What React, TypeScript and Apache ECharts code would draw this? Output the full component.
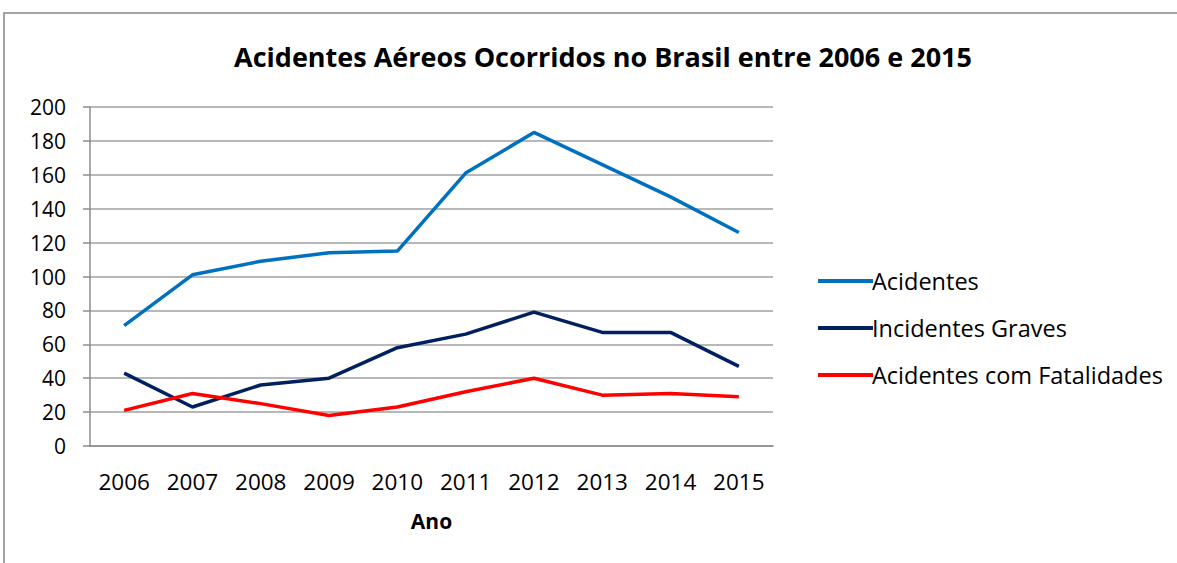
import React, { useEffect, useRef } from "react";
import * as echarts from "echarts";

const years = ["2006", "2007", "2008", "2009", "2010", "2011", "2012", "2013", "2014", "2015"];
const acidentes = [71, 101, 109, 114, 115, 161, 185, 166, 147, 126];
const incidentesGraves = [43, 23, 36, 40, 58, 66, 79, 67, 67, 47];
const fatalidades = [21, 31, 25, 18, 23, 32, 40, 30, 31, 29];

const FONT = "'Open Sans', 'Noto Sans', sans-serif";

export default function App() {
  const ref = useRef<HTMLDivElement>(null);
  useEffect(() => {
    if (!ref.current) return;
    const chart = echarts.init(ref.current, null, { renderer: "svg" });
    const mk = (name: string, data: number[], color: string) => ({
      name,
      type: "line",
      data,
      symbol: "none",
      showSymbol: false,
      lineStyle: { color, width: 3.5 },
      itemStyle: { color },
    });
    chart.setOption({
      animation: false,
      backgroundColor: "#ffffff",
      title: {
        text: "Acidentes Aéreos Ocorridos no Brasil entre 2006 e 2015",
        left: 598,
        textAlign: "center",
        top: 38,
        textStyle: { fontFamily: FONT, fontWeight: "bold", fontSize: 27, color: "#000" },
      },
      graphic: [
        {
          type: "rect",
          shape: { x: 4, y: 13, width: 1250, height: 600 },
          style: { fill: "none", stroke: "#878787", lineWidth: 1.5 },
          silent: true,
        },
      ],
      legend: {
        orient: "vertical",
        left: 813,
        top: 264,
        icon: "rect",
        itemWidth: 55,
        itemHeight: 4,
        itemGap: 23,
        textStyle: { fontFamily: FONT, fontSize: 23.5, color: "#000", lineHeight: 24, padding: [0, 0, 0, -6] },
        data: ["Acidentes", "Incidentes Graves", "Acidentes com Fatalidades"],
      },
      grid: { left: 90, right: 404, top: 107, bottom: 117, containLabel: false },
      xAxis: {
        type: "category",
        data: years,
        boundaryGap: true,
        name: "Ano",
        nameLocation: "middle",
        nameGap: 64,
        nameTextStyle: { fontFamily: FONT, fontWeight: "bold", fontSize: 21, color: "#000" },
        axisLine: { show: true, lineStyle: { color: "#8c8c8c", width: 1.5 } },
        axisTick: { show: false },
        axisLabel: { fontFamily: FONT, fontSize: 22.5, color: "#000", margin: 24 },
      },
      yAxis: {
        type: "value",
        min: 0,
        max: 200,
        interval: 20,
        axisLine: { show: true, lineStyle: { color: "#8c8c8c", width: 1.5 } },
        axisTick: { show: true, length: 7, lineStyle: { color: "#8c8c8c", width: 1.5 } },
        axisLabel: { fontFamily: FONT, fontSize: 21, color: "#000", margin: 24 },
        splitLine: { show: true, lineStyle: { color: "#a0a0a0", width: 1.5 } },
      },
      series: [
        mk("Acidentes", acidentes, "#0070C0"),
        mk("Incidentes Graves", incidentesGraves, "#002060"),
        mk("Acidentes com Fatalidades", fatalidades, "#FF0000"),
      ],
    });
    return () => chart.dispose();
  }, []);
  return (
    <div
      ref={ref}
      style={{ position: "absolute", left: 0, top: 0, width: 1177, height: 563 }}
    />
  );
}
